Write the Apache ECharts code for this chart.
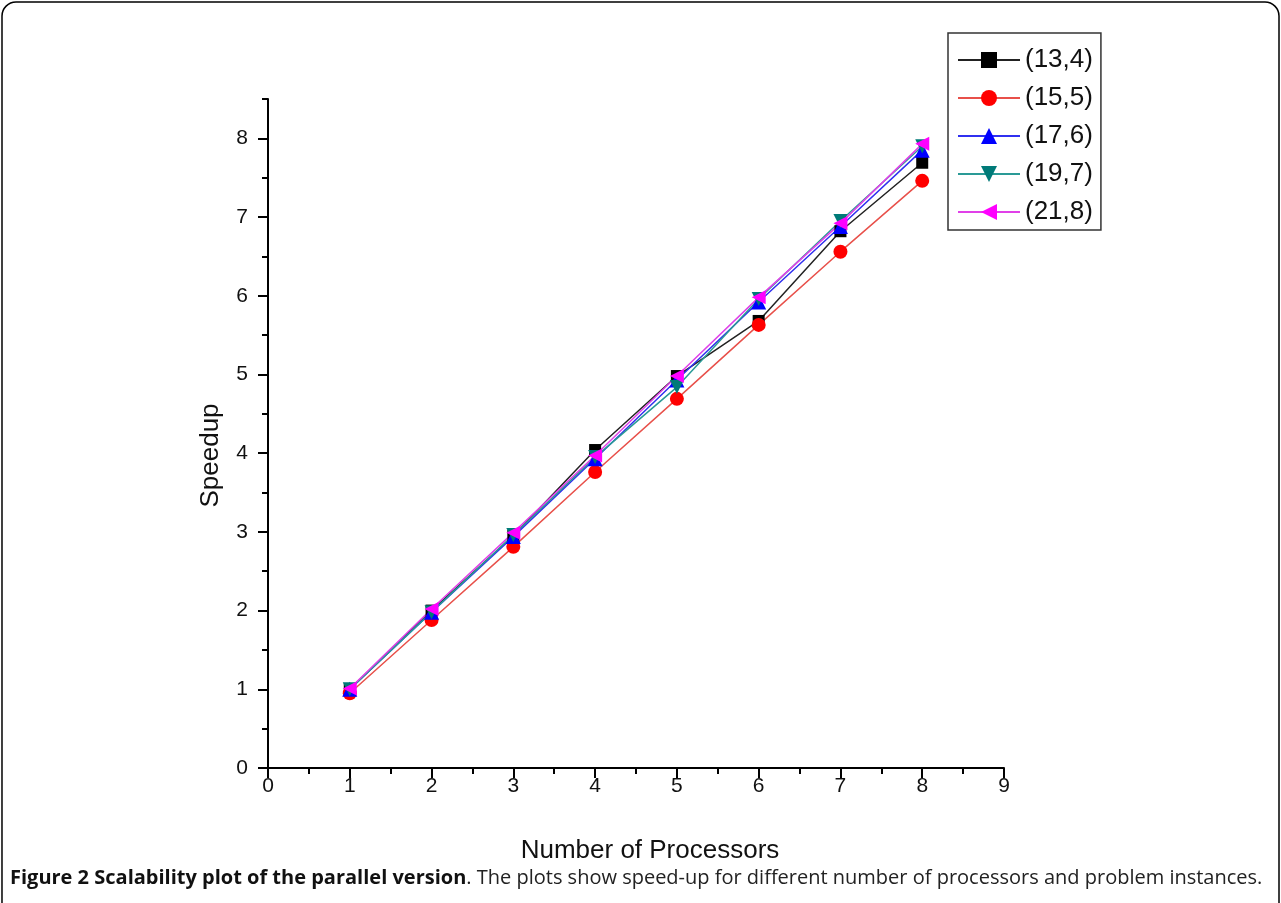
<!DOCTYPE html>
<html>
<head>
<meta charset="utf-8">
<script src="https://cdn.jsdelivr.net/npm/echarts@6/dist/echarts.min.js"></script>
<style>
  html, body { margin: 0; padding: 0; background: #fff; }
  #chart { width: 1281px; height: 903px; }
</style>
</head>
<body>
<div id="chart"></div>
<script>
// 横轴：处理器数量
const processors = [1, 2, 3, 4, 5, 6, 7, 8];
// 各问题规模的加速比
const speedup_13_4 = [1.00, 2.00, 2.95, 4.04, 4.98, 5.68, 6.82, 7.69];
const speedup_15_5 = [0.95, 1.88, 2.81, 3.76, 4.69, 5.63, 6.56, 7.46];
const speedup_17_6 = [1.00, 1.98, 2.94, 3.93, 4.93, 5.92, 6.88, 7.85];
const speedup_19_7 = [1.00, 1.98, 2.96, 3.95, 4.84, 5.96, 6.95, 7.90];
const speedup_21_8 = [1.01, 2.02, 2.99, 3.97, 4.98, 5.98, 6.92, 7.93];
// 系列名称
const seriesNames = ['(13,4)', '(15,5)', '(17,6)', '(19,7)', '(21,8)'];
// 刻度标签
const yMajorTicks = [0, 1, 2, 3, 4, 5, 6, 7, 8];

const chart = echarts.init(document.getElementById('chart'));

const pair = arr => processors.map((p, i) => [p, arr[i]]);

const font = 'Liberation Sans, Arial, sans-serif';
const tickStyle = { color: '#000', width: 2 };

const mkSeries = (name, data, color, lineColor, symbol, size) => ({
  name,
  type: 'line',
  data: pair(data),
  symbol,
  symbolSize: size,
  itemStyle: { color },
  lineStyle: { color: lineColor, width: 1.5 },
  emphasis: { disabled: true }
});

chart.setOption({
  animation: false,
  backgroundColor: '#fff',
  grid: { left: 268, right: 277, top: 99, bottom: 135 },
  legend: {
    left: 948,
    top: 33,
    orient: 'vertical',
    data: seriesNames,
    itemWidth: 62,
    itemHeight: 20,
    itemGap: 12,
    padding: [14, 8, 5, 9],
    borderColor: '#333',
    borderWidth: 1.5,
    textStyle: { fontFamily: font, fontSize: 26, color: '#111' }
  },
  xAxis: {
    type: 'value',
    min: 0,
    max: 9,
    interval: 1,
    name: 'Number of Processors',
    nameLocation: 'middle',
    nameGap: 70,
    nameTextStyle: { fontFamily: font, fontSize: 26, color: '#111', padding: [0, 0, 0, 28] },
    splitLine: { show: false },
    axisLine: { onZero: false, lineStyle: { color: '#000', width: 2 } },
    axisTick: { length: 10, lineStyle: tickStyle },
    minorTick: { show: true, splitNumber: 2, length: 6, lineStyle: tickStyle },
    axisLabel: { fontFamily: font, fontSize: 21, color: '#111', margin: 8 }
  },
  yAxis: [
    {
      type: 'value',
      min: 0,
      max: 8.5,
      interval: 0.5,
      name: 'Speedup',
      nameLocation: 'middle',
      nameGap: 44,
      nameTextStyle: { fontFamily: font, fontSize: 26, color: '#111', padding: [0, 44, 0, 0] },
      splitLine: { show: false },
      axisLine: { onZero: false, lineStyle: { color: '#000', width: 2 } },
      axisTick: { length: 10, customValues: yMajorTicks, lineStyle: tickStyle },
      axisLabel: { fontFamily: font, fontSize: 21, color: '#111', margin: 20, customValues: yMajorTicks }
    },
    {
      // 次刻度
      type: 'value',
      min: 0,
      max: 8.5,
      interval: 0.5,
      position: 'left',
      splitLine: { show: false },
      axisLine: { show: false },
      axisLabel: { show: false },
      axisTick: { show: true, length: 6, lineStyle: tickStyle }
    }
  ],
  series: [
    mkSeries(seriesNames[0], speedup_13_4, '#000000', '#222222', 'rect', 12),
    mkSeries(seriesNames[1], speedup_15_5, '#ff0000', '#e8504a', 'circle', 14),
    mkSeries(seriesNames[2], speedup_17_6, '#0000ff', '#3030f0', 'triangle', 15),
    mkSeries(seriesNames[3], speedup_19_7, '#007a78', '#2a9a96', 'path://M0,0 L10,0 L5,9 Z', 14),
    mkSeries(seriesNames[4], speedup_21_8, '#ff00ff', '#e040e8', 'path://M0,5 L9,0 L9,10 Z', 14)
  ],
  graphic: [
    {
      type: 'rect',
      shape: { x: 2, y: 2, width: 1277, height: 940, r: 14 },
      style: { fill: 'none', stroke: '#000', lineWidth: 1.5 },
      silent: true
    },
    {
      type: 'text',
      left: 10,
      top: 868,
      style: {
        text: '{b|Figure 2 Scalability plot of the parallel version}{n|. The plots show speed-up for different number of processors and problem instances.}',
        rich: {
          b: { fontFamily: 'Open Sans, sans-serif', fontSize: 20, fontWeight: 'bold', fill: '#111' },
          n: { fontFamily: 'Open Sans, sans-serif', fontSize: 20, fill: '#222' }
        }
      }
    }
  ]
});
</script>
</body>
</html>
